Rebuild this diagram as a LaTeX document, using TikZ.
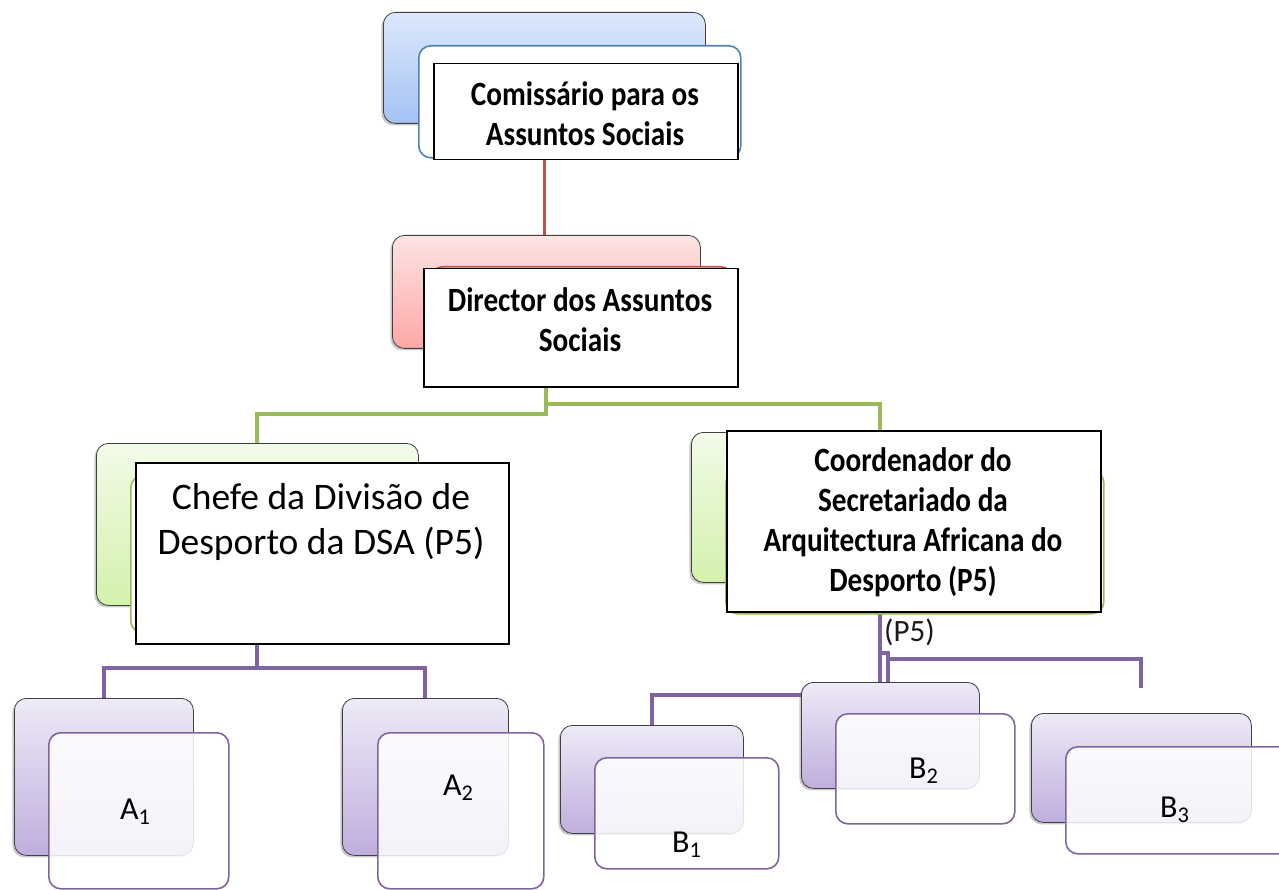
\documentclass[tikz,border=0pt]{standalone}
\usepackage{fontspec}
\setmainfont{Carlito}
\newfontfamily\condfont[FakeStretch=0.86]{Carlito}
\usetikzlibrary{shadows}
\definecolor{blueTop}{HTML}{DCE8FC}
\definecolor{blueBot}{HTML}{A4C2F4}
\definecolor{redTop}{HTML}{FDE3E3}
\definecolor{redBot}{HTML}{FFA7A7}
\definecolor{greenTop}{HTML}{F2FBE8}
\definecolor{greenBot}{HTML}{D3F1AC}
\definecolor{purpleTop}{HTML}{EEEAF7}
\definecolor{purpleBot}{HTML}{BFAEDD}
\definecolor{blueEdge}{HTML}{4F81BD}
\definecolor{redEdge}{HTML}{C0504D}
\definecolor{greenEdge}{HTML}{9BBB59}
\definecolor{purpleEdge}{HTML}{8064A2}
\begin{document}
\begin{tikzpicture}[x=1pt,y=-1pt,
  backbox/.style={draw=black!75, line width=0.8pt, rounded corners=12pt,
    drop shadow={shadow xshift=-2pt,shadow yshift=-2pt,opacity=0.35,fill=black!60},
    inner sep=0pt, anchor=north west},
  frontbox/.style={fill=white, line width=1.6pt, rounded corners=12pt, inner sep=0pt, anchor=north west},
  pfront/.style={frontbox, draw=purpleEdge, fill opacity=0.85},
  pback/.style={backbox, top color=purpleTop, bottom color=purpleBot},
  gback/.style={backbox, top color=greenTop, bottom color=greenBot},
  tbox/.style={draw=black, line width=1.5pt, fill=white, inner sep=0pt, anchor=north west},
  btext/.style={font=\condfont\bfseries\fontsize{34}{40}\selectfont, align=center, inner sep=0pt},
  rtext/.style={font=\fontsize{37.5}{45}\selectfont, align=center, inner sep=0pt},
  lbl/.style={font=\fontsize{32}{38}\selectfont, inner sep=0pt, anchor=base west},
  rline/.style={draw=redEdge, line width=3.5pt},
  gline/.style={draw=greenEdge, line width=4pt},
  pline/.style={draw=purpleEdge, line width=4pt}
]
\useasboundingbox (0,0) rectangle (1279,890);
\fill[white] (0,0) rectangle (1279,890);

% ---- back boxes of the upper levels ----
\node[backbox, top color=blueTop, bottom color=blueBot, minimum width=322pt, minimum height=111pt] (bb) at (383,12) {};
\node[backbox, top color=redTop, bottom color=redBot, minimum width=308pt, minimum height=113pt] (rb) at (392,235) {};
\node[gback, minimum width=322pt, minimum height=162pt] (glb) at (96,443) {};
\node[gback, minimum width=378pt, minimum height=150pt] (grb) at (691,432) {};

% ---- anchors of the lower levels (for connectors) ----
\path
  node[anchor=north west, inner sep=0pt, minimum width=179pt, minimum height=157pt] (a1p) at (14,698) {}
  node[anchor=north west, inner sep=0pt, minimum width=166pt, minimum height=157pt] (a2p) at (342,698) {}
  node[anchor=north west, inner sep=0pt, minimum width=183pt, minimum height=108pt] (b1p) at (560,725) {}
  node[anchor=north west, inner sep=0pt, minimum width=178pt, minimum height=106pt] (b2p) at (801,682) {}
  node[anchor=north west, inner sep=0pt, minimum width=220pt, minimum height=109pt] (b3p) at (1031,713) {};

% ---- connectors ----
\draw[rline] (bb.south) -- (bb.south |- rb.north);
\draw[gline] (rb.south) -- ++(0,55) -| (grb.north);
\draw[gline] (rb.south) -- ++(0,65) -| (glb.north);
\draw[pline] (glb.south) -- ++(0,62) -| (a1p.north);
\draw[pline] (glb.south) ++(0,62) -| (a2p.north);
\draw[pline] (grb.south) -- (grb.south |- b2p.north);
\draw[pline] (grb.south) ++(0,70) -- ++(8,0) -- ++(0,30);
\draw[pline] (grb.south) ++(8,76) -| ([yshift=25pt]b3p.north);
\draw[pline] ([yshift=-13pt]b2p.north west) -| (b1p.north);

% ---- front boxes ----
\node[frontbox, draw=blueEdge, minimum width=322pt, minimum height=112pt] (bf) at (418,45) {};
\node[frontbox, draw=redEdge, minimum width=302pt, minimum height=112pt] (rf) at (430,266) {};
\node[frontbox, draw=greenEdge, minimum width=320pt, minimum height=157pt] (glf) at (130,475) {};
\node[frontbox, draw=greenEdge, minimum width=378pt, minimum height=143pt] (grf) at (725,470) {};

% ---- text boxes ----
\node[tbox, minimum width=304pt, minimum height=96pt] (t1) at (433,63) {};
\node[tbox, minimum width=314pt, minimum height=118pt] (t2) at (423,268) {};
\node[tbox, minimum width=373pt, minimum height=181pt] (t3) at (135,462) {};
\node[tbox, minimum width=374pt, minimum height=181pt] (t4) at (726,430) {};

\node[btext] (t1txt) at (585,114) {Comissário para os\\Assuntos Sociais};
\node[btext] (t2txt) at (580,320) {Director dos Assuntos\\Sociais};
\node[rtext] (t3txt) at (321,522) {Chefe da Divisão de\\Desporto da DSA (P5)};
\node[btext] (t4txt) at (913,522) {Coordenador do\\Secretariado da\\Arquitectura Africana do\\Desporto (P5)};
\node[font=\fontsize{31}{36}\selectfont, text=black!90, inner sep=0pt, anchor=base west] (p5) at (884,641) {(P5)};

% ---- lower level boxes ----
\node[pback, minimum width=179pt, minimum height=157pt] (a1b) at (14,698) {};
\node[pfront, minimum width=180pt, minimum height=156pt] (a1f) at (48,732) {};
\node[pback, minimum width=166pt, minimum height=157pt] (a2b) at (342,698) {};
\node[pfront, minimum width=166pt, minimum height=156pt] (a2f) at (377,732) {};
\node[pback, minimum width=183pt, minimum height=108pt] (b1b) at (560,725) {};
\node[pfront, minimum width=184pt, minimum height=111pt] (b1f) at (594,757) {};
\node[pback, minimum width=178pt, minimum height=106pt] (b2b) at (801,682) {};
\node[pfront, minimum width=179pt, minimum height=110pt] (b2f) at (835,713) {};
\node[pback, minimum width=220pt, minimum height=109pt] (b3b) at (1031,713) {};
\node[pfront, minimum width=230pt, minimum height=107pt] (b3f) at (1065,746) {};

\node[lbl] (la1) at (120,819) {A\textsubscript{1}};
\node[lbl] (la2) at (443,795) {A\textsubscript{2}};
\node[lbl] (lb1) at (672,852) {B\textsubscript{1}};
\node[lbl] (lb2) at (909,778) {B\textsubscript{2}};
\node[lbl] (lb3) at (1160,817) {B\textsubscript{3}};
\end{tikzpicture}
\end{document}
